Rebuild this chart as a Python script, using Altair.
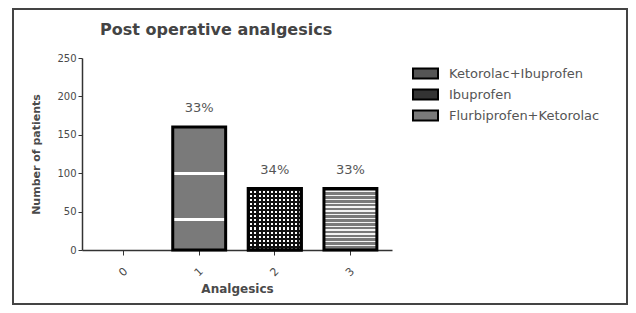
import altair as alt
import pandas as pd

# ---- data ----
chart_title = "Post operative analgesics"
categories = ["0", "1", "2", "3"]
patients = [0, 160, 80, 80]
percent_labels = ["", "33%", "34%", "33%"]
drugs = ["Ketorolac+Ibuprofen", "Ibuprofen", "Flurbiprofen+Ketorolac"]
y_ticks = [0, 50, 100, 150, 200, 250]

df = pd.DataFrame({"cat": categories, "n": patients, "pct": percent_labels})
legend_df = pd.DataFrame({"drug": drugs})
title_df = pd.DataFrame({"t": [chart_title]})

FONT = "DejaVu Sans"
TXT = "#4a4a4a"


def stripes(n, c1, c2, frac, across_x):
    stops = []
    for i in range(n):
        a, b, c = i / n, (i + frac) / n, (i + 1) / n
        stops += [alt.GradientStop(offset=a, color=c1), alt.GradientStop(offset=b, color=c1),
                  alt.GradientStop(offset=b, color=c2), alt.GradientStop(offset=c, color=c2)]
    return alt.LinearGradient(gradient="linear", stops=stops,
                              x1=0, y1=0, x2=1 if across_x else 0, y2=0 if across_x else 1)


def bands(base, band_color, centers, half):
    stops = [alt.GradientStop(offset=0, color=base)]
    for c in centers:
        stops += [alt.GradientStop(offset=c - half, color=base), alt.GradientStop(offset=c - half, color=band_color),
                  alt.GradientStop(offset=c + half, color=band_color), alt.GradientStop(offset=c + half, color=base)]
    stops.append(alt.GradientStop(offset=1, color=base))
    return alt.LinearGradient(gradient="linear", stops=stops, x1=0, y1=0, x2=0, y2=1)


grad1 = bands("#7a7a7a", "#ffffff", [0.375, 0.75], 0.012)
grad2_rows = stripes(15, "#111111", "#ffffff", 0.5, False)
grad2_cols = stripes(13, "#111111", "rgba(0,0,0,0)", 0.5, True)
grad3 = stripes(16, "#7a7a7a", "#f4f4f4", 0.65, False)

x_enc = alt.X("cat:N", title="Analgesics",
              scale=alt.Scale(domain=categories, paddingInner=0.3, paddingOuter=0.2),
              axis=alt.Axis(labelAngle=315, labelFontSize=11, labelColor=TXT, labelFont=FONT,
                            labelPadding=17, tickSize=5, tickColor="#333", domainColor="#333",
                            domainWidth=1.5, titleFont=FONT, titleFontSize=12, titleColor=TXT,
                            titleFontWeight="bold", titlePadding=5, labelAlign="center",
                            labelBaseline="middle"))
y_enc = alt.Y("n:Q", title="Number of patients",
              scale=alt.Scale(domain=[0, 250], nice=False),
              axis=alt.Axis(values=y_ticks, grid=False, labelFontSize=10, labelColor=TXT, labelFont=FONT,
                            tickSize=4, tickColor="#333", domainColor="#333", domainWidth=1.5,
                            labelPadding=2, titleFont=FONT, titleFontSize=11, titleColor=TXT,
                            titleFontWeight="bold", titlePadding=15))

base = alt.Chart(df).encode(x=x_enc, y=y_enc)

bar1 = base.transform_filter("datum.cat == '1'").mark_bar(fill=grad1, stroke="black", strokeWidth=3)
bar2 = base.transform_filter("datum.cat == '2'").mark_bar(fill=grad2_rows, stroke="black", strokeWidth=3)
bar2b = base.transform_filter("datum.cat == '2'").mark_bar(fill=grad2_cols, strokeWidth=0)
bar2c = base.transform_filter("datum.cat == '2'").mark_bar(fillOpacity=0, stroke="black", strokeWidth=3)
bar3 = base.transform_filter("datum.cat == '3'").mark_bar(fill=grad3, stroke="black", strokeWidth=3)

labels = base.transform_filter("datum.n > 0").mark_text(
    baseline="bottom", dy=-12, fontSize=13, font=FONT, color="#555").encode(text="pct:N")

legend_layer = alt.Chart(legend_df).mark_point(filled=True, size=0).encode(
    color=alt.Color("drug:N", scale=alt.Scale(domain=drugs, range=["#555555", "#333333", "#7a7a7a"]),
                    legend=alt.Legend(title=None, orient="none", legendX=337, legendY=9,
                                      symbolType="M-2.5,-1H2.5V1H-2.5Z", symbolSize=100,
                                      symbolOpacity=1, symbolStrokeColor="black", symbolStrokeWidth=2,
                                      labelFont=FONT, labelFontSize=13, labelColor="#555",
                                      labelOffset=17, rowPadding=2))
)

title_layer = alt.Chart(title_df).mark_text(
    align="left", baseline="middle", fontSize=16, font=FONT, fontWeight="bold", color="#444").encode(
    text="t:N", x=alt.value(18), y=alt.value(-28))

frame = alt.Chart(pd.DataFrame({"f": [0]})).mark_rect(
    fill="transparent", stroke="#444", strokeWidth=2).encode(
    x=alt.value(-69), x2=alt.value(545), y=alt.value(-49), y2=alt.value(246))

chart = alt.layer(frame, bar1, bar2, bar2b, bar2c, bar3, labels, title_layer, legend_layer).properties(
    width=310, height=192,
    padding={"left": 74, "top": 50, "right": 236, "bottom": 55},
    autosize=alt.AutoSizeParams(type="none"),
).configure_view(strokeWidth=0)

chart.save("out.html", embed_options={"renderer": "svg", "actions": False})
